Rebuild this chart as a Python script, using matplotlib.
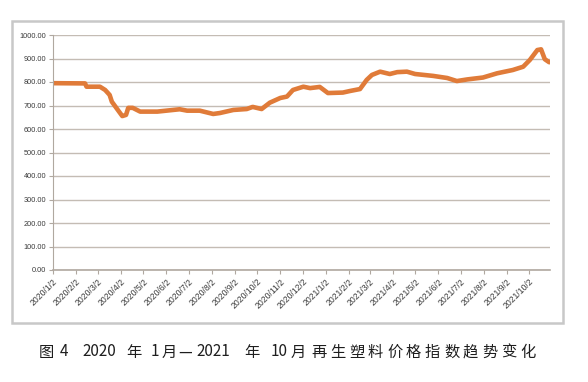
import matplotlib
matplotlib.use("Agg")
import matplotlib.pyplot as plt
import matplotlib.transforms as mtransforms
from matplotlib.patches import Rectangle
import pandas as pd

plt.rcParams['font.family'] = ['Noto Sans CJK SC', 'DejaVu Sans']

# recycled plastic price index
dates = ['2020-01-02', '2020-02-14', '2020-02-16', '2020-03-05', '2020-03-12',
         '2020-03-18', '2020-03-21', '2020-03-29', '2020-04-04', '2020-04-09',
         '2020-04-12', '2020-04-18', '2020-04-28', '2020-05-21', '2020-06-11',
         '2020-06-20', '2020-06-30', '2020-07-17', '2020-08-04', '2020-08-13',
         '2020-08-31', '2020-09-18', '2020-09-26', '2020-10-08', '2020-10-19',
         '2020-11-02', '2020-11-11', '2020-11-19', '2020-12-03', '2020-12-12',
         '2020-12-25', '2021-01-05', '2021-01-25', '2021-02-04', '2021-02-17',
         '2021-02-26', '2021-03-05', '2021-03-16', '2021-03-29', '2021-04-08',
         '2021-04-21', '2021-05-02', '2021-05-26', '2021-06-14', '2021-06-27',
         '2021-07-11', '2021-08-01', '2021-08-20', '2021-09-10', '2021-09-24',
         '2021-10-03', '2021-10-13', '2021-10-18', '2021-10-23', '2021-10-29']
values = [795, 794, 780, 780, 766,
          745, 716, 681, 655, 660,
          690, 690, 674, 674, 681,
          684, 678, 678, 664, 668,
          681, 685, 694, 685, 712,
          732, 738, 766, 780, 774,
          779, 753, 755, 762, 770,
          809, 830, 844, 834, 842,
          844, 834, 826, 817, 804,
          811, 819, 837, 851, 865,
          894, 936, 939, 897, 884]

tick_dates = ['2020-%02d-02' % m for m in range(1, 13)] + ['2021-%02d-02' % m for m in range(1, 11)]
tick_labels = [d[:4] + '/' + str(int(d[5:7])) + '/2' for d in tick_dates]

# caption is letter-spaced in the original, so set it piece by piece
caption_parts = ['图', '4', '2020', '年', '1', '月', '—', '2021', '年', '10', '月',
                 '再', '生', '塑', '料', '价', '格', '指', '数', '趋', '势', '变', '化']
caption_px = [39, 60, 82, 126, 151, 162, 178, 196, 244, 271, 291,
              311, 330, 349, 368, 387, 406, 425, 444, 463, 482, 501, 520]

x = pd.to_datetime(dates)
fig = plt.figure(figsize=(5.88, 3.82), dpi=100)
fig.patches.append(Rectangle((12 / 588, 1 - 323 / 382), 551 / 588, 302 / 382,
                             transform=fig.transFigure, fill=False,
                             edgecolor='#c8c8c8', linewidth=1.8))

ax = fig.add_axes([53 / 588, 1 - 270 / 382, 497 / 588, 235 / 382])
ax.plot(x, values, color='#e07b39', linewidth=3.3, solid_capstyle='round')

ax.set_ylim(0, 1000)
ax.set_yticks(range(0, 1001, 100))
ax.set_yticklabels(['%.2f' % v for v in range(0, 1001, 100)], fontsize=5.3, color='#3a3a3a',
                   family='Liberation Sans')
ax.set_xlim(pd.Timestamp('2020-01-02'), pd.Timestamp('2021-10-30'))
ax.set_xticks(pd.to_datetime(tick_dates))
ax.set_xticklabels(tick_labels, rotation=45, ha='right', rotation_mode='anchor',
                   fontsize=6.2, color='#3a3a3a', family='Liberation Sans')
shift = mtransforms.ScaledTranslation(3 / 100, 0, fig.dpi_scale_trans)
for lab in ax.get_xticklabels():
    lab.set_transform(lab.get_transform() + shift)

ax.grid(axis='y', color='#c4bcb4', linewidth=1)
ax.set_axisbelow(True)
for s in ['top', 'right']:
    ax.spines[s].set_visible(False)
ax.spines['left'].set_color('#b0a8a0')
ax.spines['bottom'].set_color('#b0a8a0')
ax.spines['bottom'].set_linewidth(1.2)
ax.tick_params(axis='both', color='#b0a8a0', length=3, width=0.8, pad=2)

for part, px in zip(caption_parts, caption_px):
    fig.text(px / 588, 1 - 352 / 382, part, fontsize=11, ha='left', va='center',
             color='#1e1e1e')

fig.savefig('out.png', dpi=100)
